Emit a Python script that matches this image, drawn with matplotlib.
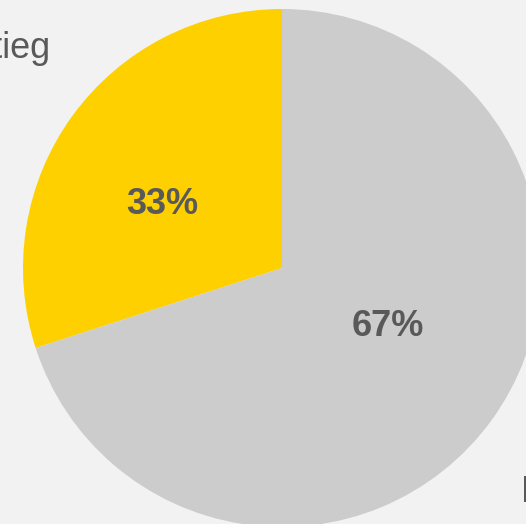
import matplotlib.pyplot as plt

# --- Data ---
labels = ["Anstieg", "Kein Anstieg"]
shares = [30, 70]              # wedge sizes as drawn
pct_labels = ["33%", "67%"]    # data labels as printed
colors = ["#ffd000", "#cccccc"]

W, H = 526, 524
cx, cy, r = 282, H - 268, 259

fig = plt.figure(figsize=(W / 100, H / 100), dpi=100, facecolor="#f2f2f2")
ax = fig.add_axes([0, 0, 1, 1])
ax.set_facecolor("#f2f2f2")

ax.pie(shares, colors=colors, startangle=90, counterclock=True,
       center=(cx, cy), radius=r, frame=True,
       wedgeprops=dict(linewidth=0))
ax.set_xlim(0, W)
ax.set_ylim(0, H)
ax.set_aspect("equal")
ax.axis("off")

txt = "#595959"
font = "Liberation Sans"

# percentage data labels
ax.text(cx - 119.5, cy + 64, pct_labels[0], ha="center", va="center",
        fontsize=26, fontweight="bold", color=txt, family=font)
ax.text(cx + 106, cy - 58, pct_labels[1], ha="center", va="center",
        fontsize=26, fontweight="bold", color=txt, family=font)

# category labels (partly outside the canvas)
ax.text(51, H - 58, labels[0], ha="right", va="baseline",
        fontsize=26, color=txt, family=font)
ax.text(521, H - 502, labels[1], ha="left", va="baseline",
        fontsize=26, color=txt, family=font)

fig.savefig("out.png", dpi=100, facecolor=fig.get_facecolor())
